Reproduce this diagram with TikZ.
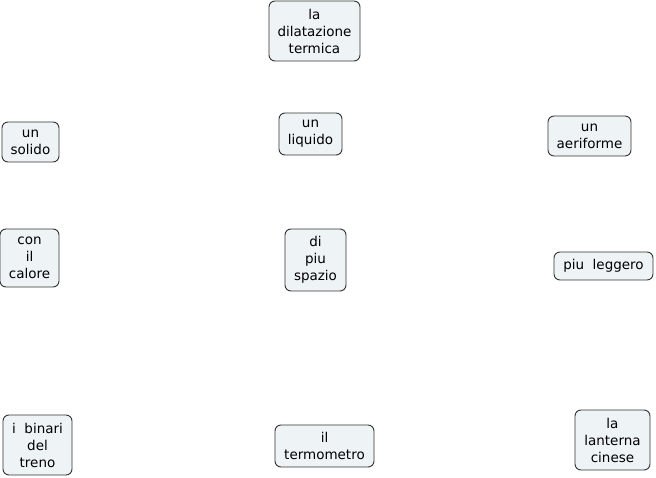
\documentclass[tikz,border=0pt]{standalone}
\usepackage{fontspec}
\setmainfont{DejaVu Sans}
\definecolor{boxfill}{HTML}{EEF3F5}
\definecolor{boxline}{HTML}{333333}
\begin{document}
\begin{tikzpicture}[x=1pt,y=-1pt,
  cbox/.style={draw=boxline, fill=boxfill, rounded corners=6pt, line width=0.9pt,
    inner sep=0pt, align=center, font=\fontsize{13.5}{17}\selectfont}]
\useasboundingbox (0,0) rectangle (656,478);
\node[cbox, minimum width=91pt, minimum height=60pt] (dil) at (314.5,31) {la\\dilatazione\\termica};
\node[cbox, minimum width=57pt, minimum height=40pt] (sol) at (30.5,142) {un\\solido};
\node[cbox, minimum width=63pt, minimum height=42pt] (liq) at (310.5,134) {un\\liquido};
\node[cbox, minimum width=83pt, minimum height=40pt] (aer) at (589.5,136) {un\\aeriforme};
\node[cbox, minimum width=59pt, minimum height=58pt] (cal) at (29.5,258) {con\\il\\calore};
\node[cbox, minimum width=61pt, minimum height=62pt] (spa) at (315.5,260) {di\\piu\\spazio};
\node[cbox, minimum width=99pt, minimum height=28pt] (leg) at (603.5,266) {piu\ \ leggero};
\node[cbox, minimum width=69pt, minimum height=60pt] (bin) at (37.5,445) {i\ \ binari\\del\\treno};
\node[cbox, minimum width=99pt, minimum height=42pt] (ter) at (324.5,446) {il\\termometro};
\node[cbox, minimum width=75pt, minimum height=60pt] (lan) at (612.5,440) {la\\lanterna\\cinese};
\end{tikzpicture}
\end{document}
